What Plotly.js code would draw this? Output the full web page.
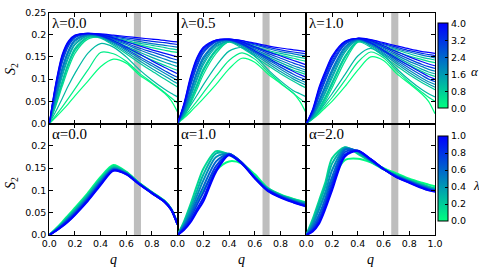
<!DOCTYPE html>
<html><head><meta charset="utf-8">
<script src="https://cdn.plot.ly/plotly-3.0.1.min.js"></script>
<style>html,body{margin:0;padding:0;background:#fff}</style>
</head><body><div id="chart" style="width:479px;height:270px"></div>
<script>
// q grid shared by every curve
const q = [0, 0.05, 0.1, 0.15, 0.2, 0.3, 0.4, 0.5, 0.6, 0.7, 0.8, 0.9, 0.95, 1.0];

// alpha value of each curve in the top row panels
const alphaTop = [0.0, 0.3, 1.1, 4.0, 3.3, 2.2, 0.9, 0.5, 3.8, 3.0, 2.0, 1.3, 0.7, 3.6, 2.8, 1.8, 1.5, 0.8];

const S2_lambda00 = [
 [0, 0.014, 0.029, 0.045, 0.062, 0.095, 0.128, 0.145, 0.136, 0.110, 0.090, 0.068, 0.052, 0.026],
 [0, 0.018, 0.037, 0.057, 0.078, 0.120, 0.160, 0.157, 0.140, 0.114, 0.092, 0.070, 0.058, 0.046],
 [0, 0.027, 0.056, 0.086, 0.113, 0.158, 0.180, 0.172, 0.150, 0.122, 0.098, 0.077, 0.068, 0.060],
 [0, 0.090, 0.155, 0.186, 0.199, 0.203, 0.202, 0.199, 0.196, 0.193, 0.190, 0.187, 0.185, 0.184],
 [0, 0.080, 0.145, 0.180, 0.196, 0.202, 0.201, 0.197, 0.193, 0.189, 0.185, 0.182, 0.180, 0.178],
 [0, 0.065, 0.125, 0.166, 0.189, 0.200, 0.200, 0.195, 0.190, 0.185, 0.180, 0.176, 0.174, 0.172],
 [0, 0.046, 0.095, 0.138, 0.170, 0.195, 0.197, 0.193, 0.187, 0.181, 0.176, 0.171, 0.168, 0.166],
 [0, 0.039, 0.083, 0.125, 0.158, 0.190, 0.195, 0.190, 0.184, 0.177, 0.171, 0.165, 0.162, 0.160],
 [0, 0.087, 0.152, 0.184, 0.198, 0.203, 0.200, 0.193, 0.184, 0.175, 0.166, 0.158, 0.154, 0.150],
 [0, 0.076, 0.140, 0.177, 0.195, 0.202, 0.199, 0.191, 0.181, 0.170, 0.161, 0.152, 0.147, 0.143],
 [0, 0.062, 0.121, 0.163, 0.187, 0.200, 0.198, 0.189, 0.178, 0.166, 0.155, 0.145, 0.140, 0.136],
 [0, 0.052, 0.105, 0.148, 0.177, 0.197, 0.196, 0.186, 0.174, 0.161, 0.149, 0.138, 0.133, 0.128],
 [0, 0.042, 0.089, 0.132, 0.164, 0.193, 0.194, 0.183, 0.170, 0.156, 0.143, 0.131, 0.125, 0.120],
 [0, 0.084, 0.149, 0.182, 0.197, 0.203, 0.198, 0.187, 0.172, 0.157, 0.141, 0.126, 0.119, 0.112],
 [0, 0.073, 0.136, 0.174, 0.193, 0.201, 0.197, 0.184, 0.168, 0.151, 0.135, 0.119, 0.111, 0.104],
 [0, 0.059, 0.117, 0.160, 0.185, 0.199, 0.196, 0.182, 0.165, 0.147, 0.130, 0.113, 0.105, 0.097],
 [0, 0.055, 0.110, 0.153, 0.180, 0.198, 0.194, 0.179, 0.161, 0.142, 0.124, 0.107, 0.098, 0.090],
 [0, 0.044, 0.092, 0.135, 0.167, 0.194, 0.192, 0.176, 0.157, 0.137, 0.118, 0.100, 0.091, 0.082]
];

const S2_lambda05 = [
 [0, 0.012, 0.026, 0.041, 0.056, 0.088, 0.123, 0.147, 0.138, 0.112, 0.090, 0.068, 0.050, 0.023],
 [0, 0.015, 0.032, 0.050, 0.069, 0.107, 0.142, 0.159, 0.145, 0.117, 0.092, 0.068, 0.056, 0.045],
 [0, 0.018, 0.040, 0.063, 0.087, 0.130, 0.163, 0.171, 0.152, 0.122, 0.096, 0.074, 0.067, 0.060],
 [0, 0.045, 0.105, 0.148, 0.172, 0.188, 0.190, 0.187, 0.181, 0.175, 0.170, 0.166, 0.164, 0.162],
 [0, 0.038, 0.092, 0.136, 0.165, 0.186, 0.190, 0.186, 0.179, 0.172, 0.166, 0.161, 0.159, 0.157],
 [0, 0.029, 0.074, 0.117, 0.150, 0.181, 0.189, 0.184, 0.177, 0.169, 0.162, 0.157, 0.154, 0.152],
 [0, 0.020, 0.052, 0.088, 0.123, 0.167, 0.187, 0.182, 0.174, 0.165, 0.158, 0.152, 0.149, 0.146],
 [0, 0.017, 0.044, 0.076, 0.110, 0.158, 0.185, 0.180, 0.171, 0.162, 0.154, 0.147, 0.143, 0.140],
 [0, 0.043, 0.101, 0.145, 0.170, 0.188, 0.190, 0.184, 0.173, 0.162, 0.152, 0.142, 0.137, 0.132],
 [0, 0.035, 0.087, 0.131, 0.161, 0.185, 0.189, 0.182, 0.170, 0.158, 0.147, 0.136, 0.131, 0.126],
 [0, 0.027, 0.070, 0.113, 0.146, 0.180, 0.188, 0.180, 0.167, 0.154, 0.142, 0.130, 0.125, 0.120],
 [0, 0.022, 0.058, 0.097, 0.132, 0.172, 0.186, 0.178, 0.164, 0.150, 0.137, 0.125, 0.120, 0.115],
 [0, 0.018, 0.048, 0.082, 0.117, 0.163, 0.184, 0.175, 0.161, 0.146, 0.132, 0.120, 0.115, 0.110],
 [0, 0.041, 0.097, 0.141, 0.168, 0.187, 0.189, 0.180, 0.164, 0.148, 0.132, 0.117, 0.110, 0.104],
 [0, 0.033, 0.083, 0.127, 0.158, 0.184, 0.188, 0.178, 0.161, 0.144, 0.127, 0.111, 0.104, 0.098],
 [0, 0.026, 0.067, 0.109, 0.143, 0.178, 0.187, 0.176, 0.158, 0.140, 0.122, 0.105, 0.098, 0.092],
 [0, 0.024, 0.062, 0.102, 0.137, 0.175, 0.185, 0.173, 0.155, 0.136, 0.117, 0.100, 0.093, 0.086],
 [0, 0.019, 0.050, 0.085, 0.120, 0.165, 0.183, 0.170, 0.151, 0.131, 0.112, 0.095, 0.087, 0.080]
];

const S2_lambda10 = [
 [0, 0.010, 0.022, 0.036, 0.050, 0.083, 0.120, 0.150, 0.142, 0.113, 0.090, 0.066, 0.050, 0.022],
 [0, 0.011, 0.025, 0.041, 0.058, 0.097, 0.138, 0.161, 0.148, 0.119, 0.093, 0.070, 0.059, 0.050],
 [0, 0.012, 0.028, 0.047, 0.067, 0.110, 0.152, 0.169, 0.153, 0.124, 0.098, 0.076, 0.067, 0.060],
 [0, 0.033, 0.083, 0.120, 0.152, 0.185, 0.192, 0.189, 0.182, 0.175, 0.168, 0.162, 0.160, 0.158],
 [0, 0.027, 0.070, 0.107, 0.141, 0.181, 0.192, 0.188, 0.180, 0.172, 0.164, 0.158, 0.155, 0.153],
 [0, 0.020, 0.053, 0.088, 0.122, 0.173, 0.190, 0.186, 0.178, 0.169, 0.161, 0.154, 0.151, 0.148],
 [0, 0.013, 0.035, 0.062, 0.093, 0.152, 0.187, 0.184, 0.175, 0.166, 0.157, 0.149, 0.146, 0.143],
 [0, 0.011, 0.029, 0.052, 0.080, 0.140, 0.183, 0.181, 0.172, 0.162, 0.152, 0.144, 0.140, 0.137],
 [0, 0.031, 0.079, 0.116, 0.149, 0.184, 0.192, 0.187, 0.175, 0.162, 0.150, 0.139, 0.134, 0.130],
 [0, 0.025, 0.065, 0.102, 0.136, 0.179, 0.191, 0.185, 0.172, 0.158, 0.145, 0.133, 0.128, 0.124],
 [0, 0.019, 0.050, 0.084, 0.118, 0.171, 0.190, 0.183, 0.169, 0.154, 0.140, 0.128, 0.122, 0.118],
 [0, 0.015, 0.040, 0.070, 0.102, 0.160, 0.188, 0.181, 0.166, 0.150, 0.135, 0.122, 0.116, 0.112],
 [0, 0.012, 0.032, 0.057, 0.087, 0.147, 0.185, 0.178, 0.163, 0.146, 0.131, 0.117, 0.111, 0.106],
 [0, 0.029, 0.075, 0.112, 0.146, 0.183, 0.191, 0.182, 0.165, 0.147, 0.130, 0.114, 0.106, 0.100],
 [0, 0.023, 0.061, 0.098, 0.132, 0.178, 0.190, 0.180, 0.162, 0.143, 0.125, 0.108, 0.100, 0.094],
 [0, 0.018, 0.047, 0.080, 0.114, 0.168, 0.189, 0.178, 0.159, 0.139, 0.120, 0.102, 0.094, 0.088],
 [0, 0.016, 0.043, 0.074, 0.107, 0.164, 0.187, 0.175, 0.156, 0.135, 0.115, 0.097, 0.089, 0.082],
 [0, 0.012, 0.033, 0.060, 0.090, 0.150, 0.184, 0.172, 0.152, 0.130, 0.110, 0.092, 0.084, 0.076]
];

// lambda value of each curve in the bottom row panels
const lambdaBottom = [0.0, 0.15, 0.3, 0.45, 0.6, 0.75, 0.9, 1.0];

const S2_alpha00 = [
 [0, 0.014, 0.029, 0.045, 0.061, 0.094, 0.130, 0.157, 0.142, 0.117, 0.096, 0.076, 0.059, 0.026],
 [0, 0.013, 0.027, 0.043, 0.058, 0.091, 0.127, 0.154, 0.141, 0.117, 0.096, 0.076, 0.059, 0.025],
 [0, 0.012, 0.025, 0.040, 0.055, 0.088, 0.124, 0.151, 0.140, 0.116, 0.095, 0.075, 0.058, 0.025],
 [0, 0.011, 0.024, 0.038, 0.053, 0.085, 0.121, 0.149, 0.139, 0.116, 0.095, 0.075, 0.058, 0.025],
 [0, 0.010, 0.022, 0.036, 0.050, 0.082, 0.118, 0.148, 0.138, 0.115, 0.095, 0.075, 0.058, 0.024],
 [0, 0.010, 0.021, 0.034, 0.048, 0.080, 0.116, 0.146, 0.137, 0.115, 0.094, 0.074, 0.057, 0.024],
 [0, 0.009, 0.020, 0.032, 0.046, 0.078, 0.114, 0.145, 0.137, 0.115, 0.094, 0.074, 0.057, 0.024],
 [0, 0.009, 0.019, 0.031, 0.045, 0.076, 0.112, 0.144, 0.136, 0.114, 0.094, 0.074, 0.057, 0.024]
];

const S2_alpha10 = [
 [0, 0.022, 0.048, 0.075, 0.100, 0.145, 0.165, 0.160, 0.136, 0.106, 0.091, 0.081, 0.077, 0.073],
 [0, 0.030, 0.068, 0.110, 0.148, 0.188, 0.180, 0.160, 0.131, 0.105, 0.090, 0.080, 0.076, 0.072],
 [0, 0.026, 0.060, 0.098, 0.135, 0.183, 0.181, 0.161, 0.130, 0.104, 0.089, 0.079, 0.075, 0.071],
 [0, 0.022, 0.052, 0.087, 0.122, 0.175, 0.182, 0.162, 0.130, 0.103, 0.088, 0.078, 0.073, 0.069],
 [0, 0.019, 0.044, 0.077, 0.108, 0.165, 0.182, 0.162, 0.129, 0.102, 0.087, 0.076, 0.071, 0.068],
 [0, 0.016, 0.038, 0.067, 0.095, 0.155, 0.181, 0.162, 0.128, 0.101, 0.086, 0.075, 0.070, 0.066],
 [0, 0.013, 0.032, 0.058, 0.083, 0.147, 0.180, 0.161, 0.128, 0.100, 0.085, 0.074, 0.069, 0.065],
 [0, 0.011, 0.028, 0.052, 0.075, 0.142, 0.179, 0.160, 0.127, 0.099, 0.084, 0.073, 0.068, 0.064]
];

const S2_alpha20 = [
 [0, 0.028, 0.060, 0.095, 0.125, 0.168, 0.171, 0.163, 0.150, 0.138, 0.126, 0.117, 0.113, 0.109],
 [0, 0.036, 0.078, 0.120, 0.172, 0.197, 0.182, 0.164, 0.147, 0.135, 0.124, 0.114, 0.109, 0.105],
 [0, 0.030, 0.070, 0.110, 0.160, 0.196, 0.185, 0.166, 0.148, 0.134, 0.122, 0.112, 0.107, 0.103],
 [0, 0.024, 0.058, 0.097, 0.145, 0.194, 0.187, 0.167, 0.148, 0.133, 0.121, 0.110, 0.105, 0.101],
 [0, 0.018, 0.046, 0.084, 0.130, 0.191, 0.188, 0.168, 0.148, 0.132, 0.120, 0.109, 0.104, 0.100],
 [0, 0.013, 0.037, 0.074, 0.118, 0.186, 0.189, 0.169, 0.148, 0.131, 0.119, 0.107, 0.102, 0.099],
 [0, 0.010, 0.030, 0.066, 0.108, 0.180, 0.189, 0.170, 0.148, 0.130, 0.118, 0.106, 0.101, 0.098],
 [0, 0.008, 0.026, 0.060, 0.100, 0.176, 0.189, 0.170, 0.148, 0.130, 0.117, 0.105, 0.100, 0.097]
];

const topLabels = ['λ=0.0', 'λ=0.5', 'λ=1.0'];
const bottomLabels = ['α=0.0', 'α=1.0', 'α=2.0'];
const xTickVals = [0, 0.2, 0.4, 0.6, 0.8, 1.0];
const xTickText = ['0.0', '0.2', '0.4', '0.6', '0.8', '1.0'];
const yTickVals = [0, 0.05, 0.1, 0.15, 0.2, 0.25];
const yTickText = ['0.0', '0.05', '0.1', '0.15', '0.2', '0.25'];
const alphaBarTicks = [0, 0.8, 1.6, 2.4, 3.2, 4.0];
const lambdaBarTicks = [0, 0.2, 0.4, 0.6, 0.8, 1.0];
const band = [0.66, 0.715];

const W = 479, H = 270;
const colXpx = [[49.3, 177.5], [177.5, 306.3], [306.3, 435]];
const topYpx = [12.5, 123.5], botYpx = [123.5, 235];
const winterR = f => `rgb(0,${Math.round(255 * (1 - f))},${Math.round(127.5 + 127.5 * f)})`;
const cscale = [[0, winterR(0)], [1, winterR(1)]];
const tickFont = {family: 'DejaVu Sans', size: 9.5, color: '#000'};
const serif = 'Liberation Serif';

const traces = [];
const layout = {
  width: W, height: H, margin: {l: 0, r: 0, t: 0, b: 0},
  paper_bgcolor: '#fff', plot_bgcolor: '#fff', showlegend: false,
  shapes: [], annotations: []
};

function addCurves(idx, vals, params, pmax, width) {
  const order = params.map((p, i) => i).sort((a, b) => params[a] - params[b]);
  order.forEach(i => {
    traces.push({
      type: 'scatter', mode: 'lines', x: q, y: vals[i],
      xaxis: 'x' + (idx === 1 ? '' : idx), yaxis: 'y' + (idx === 1 ? '' : idx),
      line: {color: winterR(params[i] / pmax), width: width, shape: 'spline', smoothing: 0.8},
      hoverinfo: 'skip'
    });
  });
}

const topData = [S2_lambda00, S2_lambda05, S2_lambda10];
const botData = [S2_alpha00, S2_alpha10, S2_alpha20];

for (let r = 0; r < 2; r++) {
  for (let c = 0; c < 3; c++) {
    const idx = r * 3 + c + 1;
    const sfx = idx === 1 ? '' : String(idx);
    const ypx = r === 0 ? topYpx : botYpx;
    const common = {
      showline: true, mirror: 'ticks', linecolor: '#000', linewidth: 1,
      ticks: 'inside', ticklen: 4, tickwidth: 1, tickcolor: '#000',
      showgrid: false, zeroline: false, tickfont: tickFont, fixedrange: true
    };
    layout['xaxis' + sfx] = Object.assign({}, common, {
      domain: [colXpx[c][0] / W, colXpx[c][1] / W], range: [0, 1],
      anchor: 'y' + sfx, tickmode: 'array', tickvals: xTickVals,
      ticktext: xTickText.map((t, i) => (c < 2 && i === xTickText.length - 1) ? '' : t),
      showticklabels: r === 1
    });
    layout['yaxis' + sfx] = Object.assign({}, common, {
      domain: [1 - ypx[1] / H, 1 - ypx[0] / H], range: [0, 0.25],
      anchor: 'x' + sfx, tickmode: 'array', tickvals: yTickVals,
      ticktext: yTickText.map((t, i) => (r === 1 && i === yTickText.length - 1) ? '' : t),
      showticklabels: c === 0
    });
    layout.shapes.push({
      type: 'rect', xref: 'x' + sfx, yref: 'y' + sfx + ' domain',
      x0: band[0], x1: band[1], y0: 0, y1: 1,
      fillcolor: '#bebebe', line: {width: 0}, layer: 'below'
    });
    layout.annotations.push({
      xref: 'paper', yref: 'paper', x: (colXpx[c][0] + 1) / W, y: 1 - (ypx[0] + 0.5) / H,
      xanchor: 'left', yanchor: 'top', showarrow: false,
      text: r === 0 ? topLabels[c] : bottomLabels[c],
      font: {family: serif, size: 15, color: '#000'}
    });
    if (r === 0) addCurves(idx, topData[c], alphaTop, 4, 1.2);
    else addCurves(idx, botData[c], lambdaBottom, 1, 2);
  }
}

// y titles
[69, 183].forEach(yc => {
  layout.annotations.push({
    xref: 'paper', yref: 'paper', x: 11 / W, y: 1 - yc / H, xanchor: 'center', yanchor: 'middle',
    textangle: -90, showarrow: false, text: '<i>S</i><sub>2</sub>',
    font: {family: serif, size: 14, color: '#000'}
  });
});
// x titles
colXpx.forEach(cx => {
  layout.annotations.push({
    xref: 'paper', yref: 'paper', x: (cx[0] + cx[1]) / 2 / W, y: 1 - 259 / H,
    xanchor: 'center', yanchor: 'middle', showarrow: false, text: '<i>q</i>',
    font: {family: serif, size: 14, color: '#000'}
  });
});
// colorbar labels
layout.annotations.push({xref: 'paper', yref: 'paper', x: 475 / W, y: 1 - 72 / H, xanchor: 'center', yanchor: 'middle',
  showarrow: false, text: '<i>α</i>', font: {family: serif, size: 13, color: '#000'}});
layout.annotations.push({xref: 'paper', yref: 'paper', x: 476 / W, y: 1 - 185 / H, xanchor: 'center', yanchor: 'middle',
  showarrow: false, text: '<i>λ</i>', font: {family: serif, size: 13, color: '#000'}});

function cbTrace(axIdx, cmax, ticks, yCenterPx) {
  return {
    type: 'scatter', mode: 'markers', x: [-1], y: [-1],
    xaxis: 'x' + axIdx, yaxis: 'y' + axIdx, hoverinfo: 'skip',
    marker: {
      color: [0], cmin: 0, cmax: cmax, colorscale: cscale, showscale: true, size: 1,
      colorbar: {
        x: 437.7 / W, xanchor: 'left', y: 1 - yCenterPx / H, yanchor: 'middle',
        len: 85 / H, lenmode: 'fraction', thickness: 10, thicknessmode: 'pixels',
        xpad: 0, ypad: 0, outlinewidth: 1, outlinecolor: '#000', bgcolor: 'rgba(0,0,0,0)',
        tickmode: 'array', tickvals: ticks, ticktext: ticks.map(v => v.toFixed(1)),
        ticks: 'inside', ticklen: 3, tickcolor: '#000', tickfont: tickFont
      }
    }
  };
}
traces.push(cbTrace(3, 4, alphaBarTicks, 65.8));
traces.push(cbTrace(6, 1, lambdaBarTicks, 178.5));

Plotly.newPlot('chart', traces, layout, {staticPlot: true, displayModeBar: false});
</script>
</body></html>
